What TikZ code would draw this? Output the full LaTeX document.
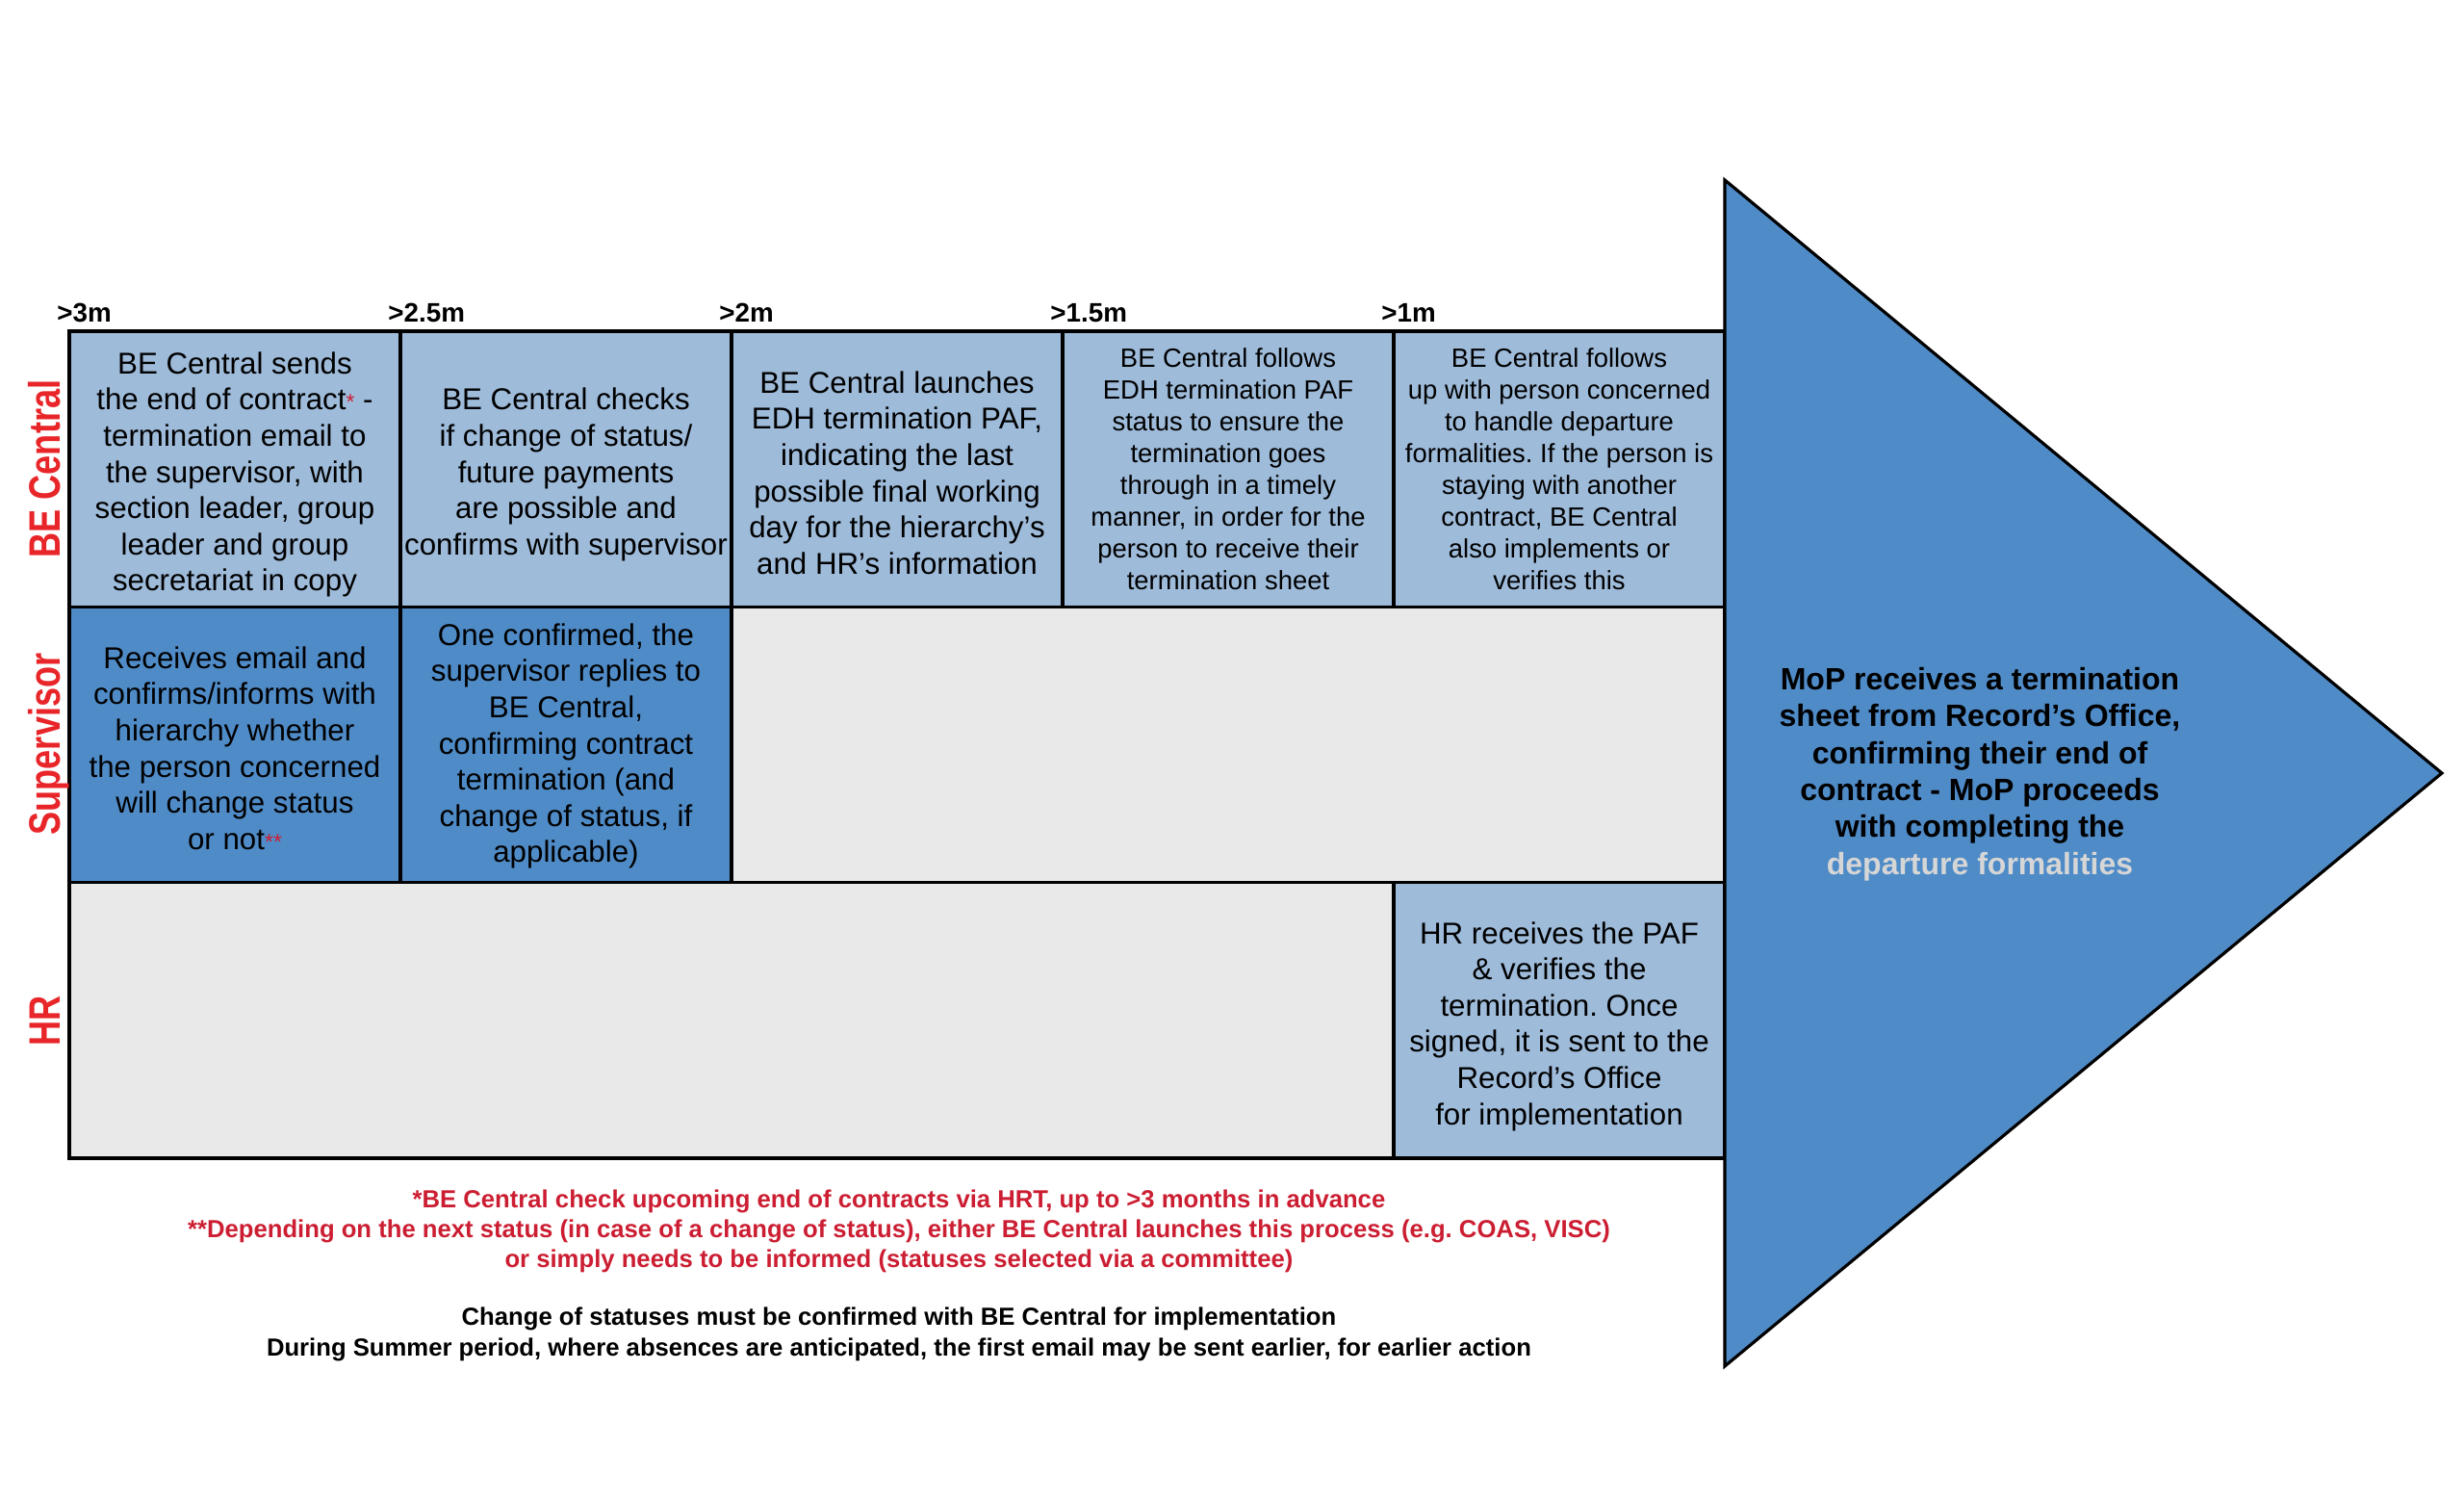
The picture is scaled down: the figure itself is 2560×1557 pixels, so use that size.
\documentclass[tikz,border=0pt]{standalone}
\usepackage{fontspec}
\setmainfont{Liberation Sans}
\newfontfamily\lanefont[FakeStretch=0.79]{Liberation Sans}
\usepackage{tikz}
\frenchspacing

\definecolor{lightblue}{RGB}{158,187,218}
\definecolor{darkblue}{RGB}{79,139,199}
\definecolor{emptygrey}{RGB}{233,233,233}
\definecolor{lanered}{RGB}{232,38,42}
\definecolor{notered}{RGB}{204,30,50}
\definecolor{softgrey}{RGB}{214,214,214}

\tikzset{
    cell/.style={draw=black, line width=0.9pt},
    celltext/.style={align=center, font=\fontsize{8.9}{10.7}\selectfont},
    smalltext/.style={align=center, font=\fontsize{7.8}{9.4}\selectfont},
    lane/.style={rotate=90, anchor=base, text=lanered, font=\lanefont\fontsize{13}{13}\selectfont\bfseries},
    monthlabel/.style={anchor=base west, font=\fontsize{7.9}{7.9}\selectfont\bfseries},
    note/.style={align=center, font=\fontsize{7.3}{8.9}\selectfont\bfseries}
}

\begin{document}
\begin{tikzpicture}[x=0.01cm, y=-0.01cm]
        \useasboundingbox (0,0) rectangle (2560,1557);
        % Draw the grid
        \foreach \c in {0,...,4} {
            \draw[cell, fill=lightblue] ({72+344*\c},344) rectangle ++(344,286.3);
        }
        \foreach \c in {0,1} {
            \draw[cell, fill=darkblue] ({72+344*\c},630.3) rectangle ++(344,286.3);
        }
        \draw[cell, fill=emptygrey] (760,630.3) rectangle (1792,916.7);
        \draw[cell, fill=emptygrey] (72,916.7) rectangle (1448,1203);
        \draw[cell, fill=lightblue] (1448,916.7) rectangle (1792,1203);
        % Month labels above the columns
        \foreach \c/\m in {0/>3m,1/>2.5m,2/>2m,3/>1.5m,4/>1m} {
            \node[monthlabel] (m\c) at ({72+344*\c-25},334) {\m};
        }
        % Lane labels
        \node[lane] (laneBE) at (62,487) {BE Central};
        \node[lane] (laneSup) at (62,773) {Supervisor};
        \node[lane] (laneHR) at (62,1060) {HR};
        % Place the text in each cell
        \node[celltext] (be1) at (244,493) {BE Central sends\\the end of contract{\color{notered}\fontsize{6.5}{6.5}\selectfont*} -\\termination email to\\the supervisor, with\\section leader, group\\leader and group\\secretariat in copy};
        \node[celltext] (be2) at (588,493) {BE Central checks\\if change of status/\\future payments\\are possible and\\confirms with supervisor};
        \node[celltext] (be3) at (932,491) {BE Central launches\\EDH termination PAF,\\indicating the last\\possible final working\\day for the hierarchy’s\\and HR’s information};
        \node[smalltext] (be4) at (1276,487) {BE Central follows\\EDH termination PAF\\status to ensure the\\termination goes\\through in a timely\\manner, in order for the\\person to receive their\\termination sheet};
        \node[smalltext] (be5) at (1620,487) {BE Central follows\\up with person concerned\\to handle departure\\formalities. If the person is\\staying with another\\contract, BE Central\\also implements or\\verifies this};
        \node[celltext] (sup1) at (244,777) {Receives email and\\confirms/informs with\\hierarchy whether\\the person concerned\\will change status\\or not{\color{notered}\fontsize{6.5}{6.5}\selectfont**}};
        \node[celltext] (sup2) at (588,775) {One confirmed, the\\supervisor replies to\\BE Central,\\confirming contract\\termination (and\\change of status, if\\applicable)};
        \node[celltext] (hr5) at (1620,1066) {HR receives the PAF\\\& verifies the\\termination. Once\\signed, it is sent to the\\Record’s Office\\for implementation};
        % Draw the arrow
        \draw[cell, fill=darkblue] (1792,187) -- (2537,803) -- (1792,1419) -- cycle;
        \node[align=center, font=\fontsize{9.1}{10.9}\selectfont\bfseries] (mop) at (2057,804) {MoP receives a termination\\sheet from Record’s Office,\\confirming their end of\\contract - MoP proceeds\\with completing the\\{\color{softgrey}departure formalities}};
        % Notes below the grid
        \node[note, text=notered] (rednote) at (934,1279) {*BE Central check upcoming end of contracts via HRT, up to >3 months in advance\\**Depending on the next status (in case of a change of status), either BE Central launches this process (e.g. COAS, VISC)\\or simply needs to be informed (statuses selected via a committee)};
        \node[note] (blacknote) at (934,1386) {Change of statuses must be confirmed with BE Central for implementation\\During Summer period, where absences are anticipated, the first email may be sent earlier, for earlier action};
\end{tikzpicture}
\end{document}
